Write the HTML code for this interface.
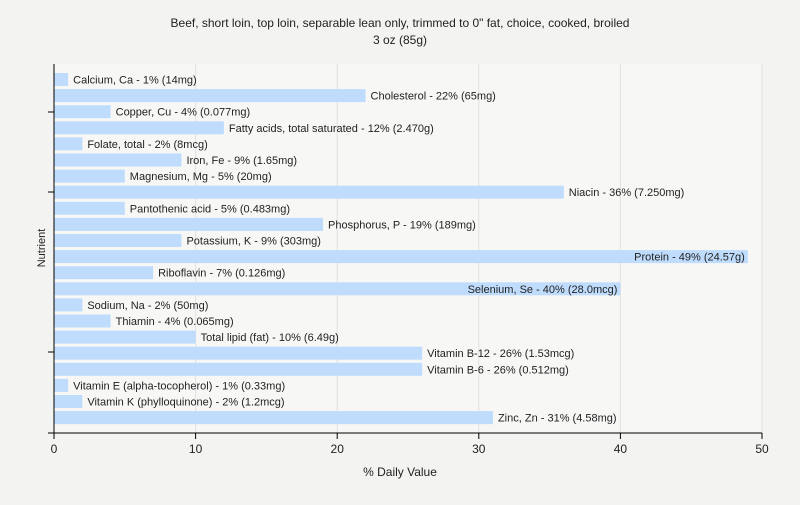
<!DOCTYPE html>
<html><head><meta charset="utf-8"><style>
body{margin:0;background:#f3f3f2;font-family:"Liberation Sans",sans-serif;}
svg text{font-family:"Liberation Sans",sans-serif;}
</style></head><body>
<svg width="800" height="500">
<rect x="0" y="0" width="800" height="500" fill="#f3f3f2"/>
<text x="400" y="27" text-anchor="middle" font-size="12" fill="#222">Beef, short loin, top loin, separable lean only, trimmed to 0" fat, choice, cooked, broiled</text>
<text x="400" y="44" text-anchor="middle" font-size="12" fill="#222">3 oz (85g)</text>
<rect x="54" y="64" width="708" height="369" fill="#f7f7f6"/>
<g id="grid"></g>
<g id="bars"></g>
<line x1="54" y1="64" x2="54" y2="433" stroke="#000"/>
<line x1="48" y1="433" x2="762" y2="433" stroke="#000"/>
<line x1="48" y1="112" x2="54" y2="112" stroke="#000"/>
<line x1="48" y1="192" x2="54" y2="192" stroke="#000"/>
<line x1="48" y1="352" x2="54" y2="352" stroke="#000"/>
<g id="xticks"></g>
<text x="400" y="476" text-anchor="middle" font-size="12" fill="#222">% Daily Value</text>
<text x="45" y="248" text-anchor="middle" font-size="11" fill="#222" transform="rotate(-90 45 248)">Nutrient</text>
</svg>
<script>
const labels=["Calcium, Ca - 1% (14mg)","Cholesterol - 22% (65mg)","Copper, Cu - 4% (0.077mg)","Fatty acids, total saturated - 12% (2.470g)","Folate, total - 2% (8mcg)","Iron, Fe - 9% (1.65mg)","Magnesium, Mg - 5% (20mg)","Niacin - 36% (7.250mg)","Pantothenic acid - 5% (0.483mg)","Phosphorus, P - 19% (189mg)","Potassium, K - 9% (303mg)","Protein - 49% (24.57g)","Riboflavin - 7% (0.126mg)","Selenium, Se - 40% (28.0mcg)","Sodium, Na - 2% (50mg)","Thiamin - 4% (0.065mg)","Total lipid (fat) - 10% (6.49g)","Vitamin B-12 - 26% (1.53mcg)","Vitamin B-6 - 26% (0.512mg)","Vitamin E (alpha-tocopherol) - 1% (0.33mg)","Vitamin K (phylloquinone) - 2% (1.2mcg)","Zinc, Zn - 31% (4.58mg)"];
const values=[1,22,4,12,2,9,5,36,5,19,9,49,7,40,2,4,10,26,26,1,2,31];
const xTicks=[0,10,20,30,40,50];
const NS="http://www.w3.org/2000/svg";
const x=v=>54+v*14.16;
const y=i=>73+i*16.1;
function mk(t,a,p){const e=document.createElementNS(NS,t);for(const k in a)e.setAttribute(k,a[k]);p.appendChild(e);return e;}
const g=document.getElementById('grid'),b=document.getElementById('bars'),xt=document.getElementById('xticks');
xTicks.forEach(v=>{
 if(v>0){const l=mk('line',{x1:x(v),y1:64,x2:x(v),y2:433,stroke:'#e2e2e2'},g);
 
 }
 const tk=mk('line',{x1:x(v),y1:433,x2:x(v),y2:439,stroke:'#000'},xt);
 
 
 const t=mk('text',{x:x(v),y:453,'text-anchor':'middle','font-size':12,fill:'#222'},xt);
 t.textContent=v;
 
 
});
values.forEach((v,i)=>{
 const r=mk('rect',{x:54,y:y(i),width:x(v)-54,height:13,fill:'#bfdcfc'},b);
 
 
 const end=x(v)+5,far=end+140>762;
 const t=mk('text',{x:far?x(v)-3:end,y:y(i)+10.5,'text-anchor':far?'end':'start','font-size':11,fill:'#222'},b);
 t.textContent=labels[i];
 
 
});
</script>
</body></html>
